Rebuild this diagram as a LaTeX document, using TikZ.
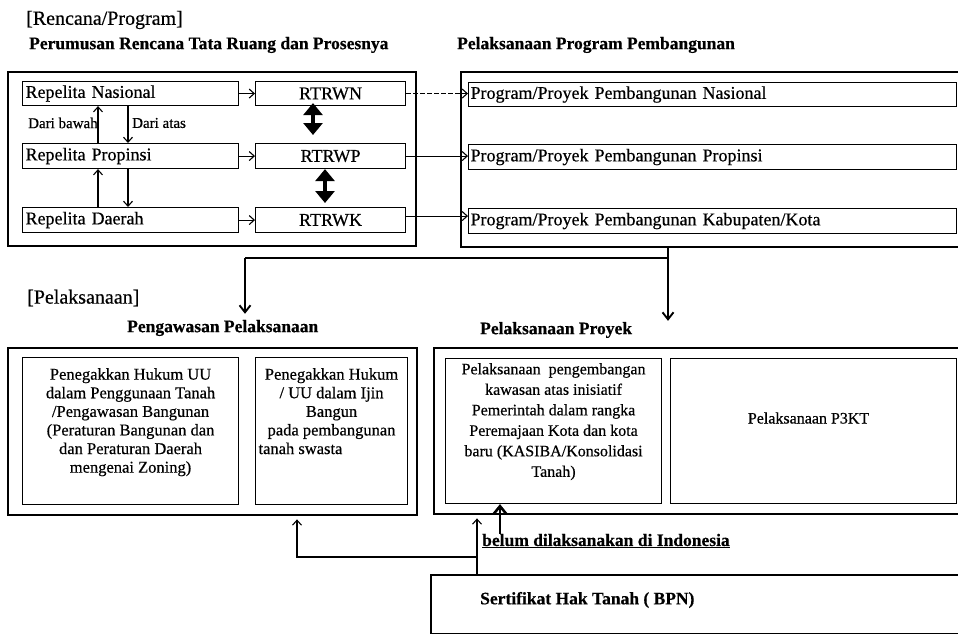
\documentclass[tikz,border=0pt]{standalone}
\usepackage{fontspec}
\setmainfont{Liberation Serif}[FakeBold=0.5]
\usetikzlibrary{arrows.meta}

\begin{document}
\begin{tikzpicture}[x=1pt,y=-1pt,
  frame/.style={draw, line width=2.4pt, inner sep=0pt, anchor=north west},
  ibox/.style={draw, line width=1.1pt, inner sep=0pt, anchor=north west,
               font=\fontsize{18}{20}\selectfont},
  head/.style={font=\bfseries\fontsize{17.5}{20}\selectfont, anchor=west, inner sep=0pt},
  section/.style={font=\fontsize{20}{24}\selectfont, anchor=west, inner sep=0pt},
  note/.style={font=\fontsize{15}{18}\selectfont, anchor=west, inner sep=0pt},
  bodyL/.style={font=\fontsize{16.5}{18.6}\selectfont, align=center, anchor=north, inner sep=0pt},
  bodyR/.style={font=\fontsize{16}{20.5}\selectfont, align=center, anchor=north, inner sep=0pt},
  link/.style={line width=1.1pt, -{Straight Barb[length=5pt,width=9pt]}},
  trunk/.style={line width=1.9pt, -{Straight Barb[length=7pt,width=11pt]}},
  plain/.style={line width=1.1pt},
  bolduparrow/.style={line width=2.6pt, -{Straight Barb[length=8pt,width=13pt]}},
  dbl/.style={line width=4pt, {Triangle[width=19pt,length=12pt]}-{Triangle[width=19pt,length=12pt]}}
]
\useasboundingbox (0,0) rectangle (958,634);
\clip (0,0) rectangle (958,634);

% ---------- headings of the planning part ----------
\node[section] (tRP) at (26,20) {[Rencana/Program]};
\node[head] (hRT) at (29,45) {Perumusan Rencana Tata Ruang dan Prosesnya};
\node[head] (hPP) at (457,45) {Pelaksanaan Program Pembangunan};

% ---------- spatial plans and their process ----------
\node[frame, minimum width=408pt, minimum height=174pt] (fTL) at (7,71) {};

\node[ibox, minimum width=216pt, minimum height=24pt, text width=210pt, align=left] (repN) at (22,81) {Repelita Nasional};
\node[ibox, minimum width=216pt, minimum height=25pt, text width=210pt, align=left] (repP) at (22,143) {Repelita Propinsi};
\node[ibox, minimum width=216pt, minimum height=25pt, text width=210pt, align=left] (repD) at (22,207) {Repelita Daerah};

\node[ibox, minimum width=150pt, minimum height=24pt, align=center] (rtN) at (255,81) {RTRWN};
\node[ibox, minimum width=150pt, minimum height=25pt, align=center] (rtP) at (255,143) {RTRWP};
\node[ibox, minimum width=150pt, minimum height=25pt, align=center] (rtK) at (255,207) {RTRWK};

\draw[link] (repN.east) -- (rtN.west);
\draw[link] (repP.east) -- (rtP.west);
\draw[link] (repD.east) -- (rtK.west);

% bottom-up and top-down planning
\coordinate (ux) at (98,0);
\coordinate (dx) at (128,0);
\draw[link] (repP.north -| ux) -- (repN.south -| ux);
\draw[link] (repD.north -| ux) -- (repP.south -| ux);
\draw[link] (repN.south -| dx) -- (repP.north -| dx);
\draw[link] (repP.south -| dx) -- (repD.north -| dx);
\node[note] (lbw) at (28,123) {Dari bawah};
\node[note] (lat) at (132,123) {Dari atas};

% coordination between plan levels
\coordinate (da) at (313,0);
\coordinate (db) at (325,0);
\draw[dbl] ([yshift=3pt]rtN.south -| da) -- ([yshift=8pt]rtP.north -| da);
\draw[dbl] (rtP.south -| db) -- ([yshift=4pt]rtK.north -| db);

% ---------- development programmes ----------
\node[frame, minimum width=520pt, minimum height=175pt] (fTR) at (460,71) {};
\node[ibox, minimum width=488pt, minimum height=24pt, text width=484pt, align=left] (prN) at (468,82) {Program/Proyek Pembangunan Nasional};
\node[ibox, minimum width=488pt, minimum height=25pt, text width=484pt, align=left] (prP) at (468,144) {Program/Proyek Pembangunan Propinsi};
\node[ibox, minimum width=488pt, minimum height=25pt, text width=484pt, align=left] (prK) at (468,208) {Program/Proyek Pembangunan Kabupaten/Kota};

\draw[link, dash pattern=on 5pt off 2pt] (rtN.east) -- (rtN.east -| prN.west);
\draw[link] (rtP.east) -- (rtP.east -| prP.west);
\draw[link] ([yshift=4pt]rtK.east) -- ([yshift=4pt]rtK.east -| prK.west);

% ---------- implementation part ----------
\node[section] (tPL) at (27,298) {[Pelaksanaan]};
\node[head] (hPW) at (127,328) {Pengawasan Pelaksanaan};
\node[head] (hPY) at (480,330) {Pelaksanaan Proyek};

\coordinate (cx) at (668,0);
\coordinate (lx) at (245,0);
\coordinate (jy) at (0,258);
\draw[trunk] (fTR.south -| cx) -- ([yshift=1pt]hPY.north -| cx);
\draw[plain] (cx |- jy) -- (lx |- jy);
\draw[trunk] (lx |- jy) -- ([yshift=6pt]hPW.north -| lx);

% supervision
\node[frame, minimum width=409pt, minimum height=167pt] (fBL) at (7,347) {};
\node[ibox, minimum width=216pt, minimum height=147pt] (kA) at (22,357) {};
\node[ibox, minimum width=152pt, minimum height=147pt] (kB) at (255,357) {};
\node[bodyL] (tA) at ([yshift=-11pt]kA.north) {Penegakkan Hukum UU\\dalam Penggunaan Tanah\\/Pengawasan Bangunan\\(Peraturan Bangunan dan\\dan Peraturan Daerah\\mengenai Zoning)};
\node[bodyL] (tB) at ([yshift=-11pt]kB.north) {Penegakkan Hukum\\/ UU dalam Ijin\\Bangun\\pada pembangunan\\\makebox[146pt][l]{tanah swasta}};

% project implementation
\node[frame, minimum width=545pt, minimum height=166pt] (fBR) at (433,347) {};
\node[ibox, minimum width=216pt, minimum height=145pt] (kC) at (445,358) {};
\node[ibox, minimum width=286pt, minimum height=145pt] (kD) at (670,358) {};
\node[bodyR] (tC) at ([yshift=-5pt]kC.north) {Pelaksanaan\ \ pengembangan\\kawasan atas inisiatif\\Pemerintah dalam rangka\\Peremajaan Kota dan kota\\baru (KASIBA/Konsolidasi\\Tanah)};
\node[font=\fontsize{16}{20}\selectfont, inner sep=0pt] (tD) at ([yshift=13pt,xshift=-5pt]kD.center) {Pelaksanaan P3KT};

% ---------- land certificates ----------
\node[frame, minimum width=545pt, minimum height=59pt] (fS) at (430,574) {};
\node[head] (tS) at (480,600) {Sertifikat Hak Tanah ( BPN)};
\node[head] (tBL) at (482,541) {\underline{belum dilaksanakan di Indonesia}};

\coordinate (sx) at (477,0);
\coordinate (qx) at (297,0);
\coordinate (qy) at (0,557);
\coordinate (tx) at (500,0);
\draw[link] (fS.north -| sx) -- ([yshift=-3pt]fBR.south -| sx);
\draw[link] (sx |- qy) -| ([yshift=-3pt]fBL.south -| qx);
\draw[bolduparrow] (tBL.north -| tx) -- (kC.south -| tx);
\end{tikzpicture}
\end{document}
